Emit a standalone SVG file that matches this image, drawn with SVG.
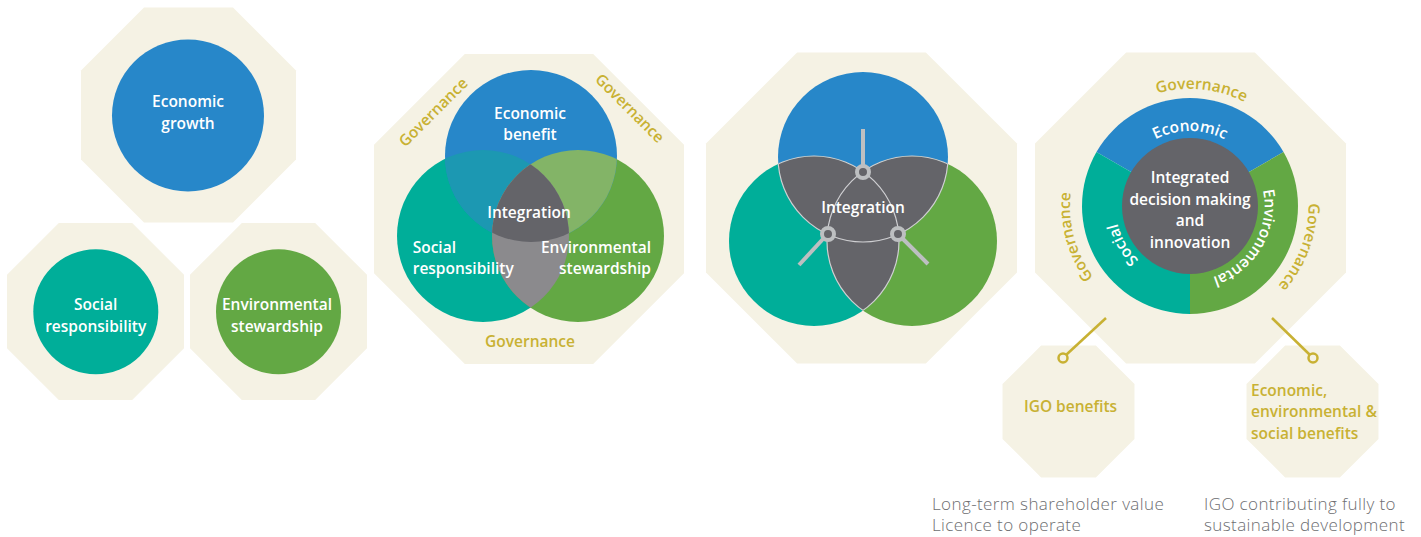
<svg xmlns="http://www.w3.org/2000/svg" width="1421" height="537" viewBox="0 0 1421 537">
<style>
.oct{fill:#f5f2e4}
.w{fill:#fff;font-family:"Open Sans","Liberation Sans",sans-serif;font-weight:600;font-size:15.5px;text-anchor:middle}
.g{fill:#c8b133;font-family:"Open Sans","Liberation Sans",sans-serif;font-weight:600;font-size:15.5px;text-anchor:middle}
.t{fill:#6d6e71;font-family:"Open Sans","Liberation Sans",sans-serif;font-weight:300;font-size:17px;letter-spacing:0.4px}
.blue{fill:#2787c9}.teal{fill:#00ae99}.green{fill:#63a844}.dark{fill:#646469}
.pin{stroke:#bdbfc1;stroke-width:4;fill:none}
.gl{stroke:#c8b133;stroke-width:2.5;fill:none}
.arc{fill:none;stroke:#cfcfd2;stroke-width:1.2}
</style>
<defs>
<clipPath id="cB"><circle cx="531" cy="156" r="86"/></clipPath>
<clipPath id="cT"><circle cx="483" cy="236" r="86"/></clipPath>
<clipPath id="c3B"><circle cx="863" cy="157" r="85"/></clipPath>
<clipPath id="c3TG"><circle cx="814" cy="241" r="85"/><circle cx="912" cy="241" r="85"/></clipPath>
<clipPath id="c3BG"><circle cx="863" cy="157" r="85"/><circle cx="912" cy="241" r="85"/></clipPath>
<clipPath id="c3BT"><circle cx="863" cy="157" r="85"/><circle cx="814" cy="241" r="85"/></clipPath>
<path id="pEco" d="M1115,206 A75,75 0 0 1 1265,206"/>
<path id="pEnv" d="M1227.5,141.05 A75,75 0 0 1 1152.5,270.95"/>
<path id="pSoc" d="M1227.5,270.95 A75,75 0 0 1 1152.5,141.05"/>
<path id="pGovT" d="M1070.2,199.7 A120,120 0 0 1 1309.8,212.3"/>
<path id="pGovL" d="M1221.1,321.9 A120,120 0 0 1 1158.9,90.1"/>
<path id="pGovR" d="M1232,93.6 A120,120 0 0 1 1148,318.4"/>
</defs>

<g id="economic-growth">
<polygon class="oct" points="144,7.5 233,7.5 296,70.5 296,159.5 233,222.5 144,222.5 81,159.5 81,70.5"/>
<circle class="blue" cx="188" cy="115.5" r="76"/>
<text class="w" x="188" y="107">Economic</text>
<text class="w" x="188" y="128.5">growth</text>
</g>

<g id="social-responsibility">
<polygon class="oct" points="58.8,223 132.2,223 184,274.8 184,348.2 132.2,400 58.8,400 7,348.2 7,274.8"/>
<circle class="teal" cx="95.8" cy="311.7" r="62.5"/>
<text class="w" x="95.7" y="310">Social</text>
<text class="w" x="95.7" y="331.5">responsibility</text>
</g>

<g id="environmental-stewardship">
<polygon class="oct" points="241.8,223 315.2,223 367,274.8 367,348.2 315.2,400 241.8,400 190,348.2 190,274.8"/>
<circle class="green" cx="278.5" cy="311.7" r="62.5"/>
<text class="w" x="277" y="310">Environmental</text>
<text class="w" x="277" y="331.5">stewardship</text>
</g>

<g id="venn">
<polygon class="oct" points="464.8,54 593.2,54 684,144.8 684,273.2 593.2,364 464.8,364 374,273.2 374,144.8"/>
<circle class="teal" cx="483" cy="236" r="86"/>
<circle class="green" cx="578" cy="236" r="86"/>
<circle class="blue" cx="531" cy="156" r="86"/>
<circle cx="483" cy="236" r="86" fill="#1c98b2" clip-path="url(#cB)"/>
<circle cx="578" cy="236" r="86" fill="#83b467" clip-path="url(#cB)"/>
<circle cx="578" cy="236" r="86" fill="#8b8a8d" clip-path="url(#cT)"/>
<g clip-path="url(#cB)"><circle cx="578" cy="236" r="86" fill="#646469" clip-path="url(#cT)"/></g>
<text class="w" x="530" y="118.5">Economic</text>
<text class="w" x="530" y="140">benefit</text>
<text class="w" x="529" y="218">Integration</text>
<text class="w" x="412.7" y="252.5" style="text-anchor:start">Social</text>
<text class="w" x="412.7" y="274" style="text-anchor:start">responsibility</text>
<text class="w" x="651" y="252.5" style="text-anchor:end">Environmental</text>
<text class="w" x="651" y="274" style="text-anchor:end">stewardship</text>
<text class="g" transform="translate(437,116) rotate(-45)">Governance</text>
<text class="g" transform="translate(626,112) rotate(45)">Governance</text>
<text class="g" x="530" y="346.5">Governance</text>
</g>

<g id="integration">
<polygon class="oct" points="797.1,52.5 925.9,52.5 1017,143.6 1017,272.4 925.9,363.5 797.1,363.5 706,272.4 706,143.6"/>
<circle class="blue" cx="863" cy="157" r="85"/>
<circle class="teal" cx="814" cy="241" r="85"/>
<circle class="green" cx="912" cy="241" r="85"/>
<circle class="dark" cx="814" cy="241" r="85" clip-path="url(#c3B)"/>
<circle class="dark" cx="912" cy="241" r="85" clip-path="url(#c3BT)"/>
<circle class="arc" cx="863" cy="157" r="85" clip-path="url(#c3TG)"/>
<circle class="arc" cx="814" cy="241" r="85" clip-path="url(#c3BG)"/>
<circle class="arc" cx="912" cy="241" r="85" clip-path="url(#c3BT)"/>
<text class="w" x="863" y="213">Integration</text>
<line class="pin" x1="863" y1="129" x2="863" y2="166"/>
<circle class="pin" cx="863" cy="172" r="6" style="fill:#646469"/>
<line class="pin" x1="823" y1="239" x2="799" y2="265"/>
<circle class="pin" cx="828" cy="234" r="6" style="fill:#646469"/>
<line class="pin" x1="903" y1="239" x2="928" y2="264"/>
<circle class="pin" cx="898" cy="234" r="6" style="fill:#646469"/>
</g>

<g id="integrated-decision-making">
<polygon class="oct" points="1126.1,52.5 1254.9,52.5 1346,143.6 1346,272.4 1254.9,363.5 1126.1,363.5 1035,272.4 1035,143.6"/>
<path class="blue" d="M1190,206 L1096.47,152 A108,108 0 0 1 1283.53,152 Z"/>
<path class="green" d="M1190,206 L1283.53,152 A108,108 0 0 1 1190,314 Z"/>
<path class="teal" d="M1190,206 L1190,314 A108,108 0 0 1 1096.47,152 Z"/>
<circle class="dark" cx="1190" cy="206" r="68"/>
<text class="w"><textPath href="#pEco" startOffset="50%">Economic</textPath></text>
<text class="w"><textPath href="#pEnv" startOffset="50%">Environmental</textPath></text>
<text class="w"><textPath href="#pSoc" startOffset="50%">Social</textPath></text>
<text class="w" x="1190" y="183">Integrated</text>
<text class="w" x="1190" y="204.5">decision making</text>
<text class="w" x="1190" y="226">and</text>
<text class="w" x="1190" y="247.5">innovation</text>
<text class="g"><textPath href="#pGovT" startOffset="51.5%">Governance</textPath></text>
<text class="g"><textPath href="#pGovL" startOffset="50%">Governance</textPath></text>
<text class="g"><textPath href="#pGovR" startOffset="50%">Governance</textPath></text>
</g>

<g id="igo-benefits">
<polygon class="oct" stroke="#fff" stroke-width="5" points="1040.1,343 1096.9,343 1137,383.1 1137,439.9 1096.9,480 1040.1,480 1000,439.9 1000,383.1"/>
<text class="g" x="1070.5" y="411.5">IGO benefits</text>
</g>

<g id="ees-benefits">
<polygon class="oct" stroke="#fff" stroke-width="5" points="1284.1,343 1340.9,343 1381,383.1 1381,439.9 1340.9,480 1284.1,480 1244,439.9 1244,383.1"/>
<text class="g" x="1251" y="395.5" style="text-anchor:start">Economic,</text>
<text class="g" x="1251" y="417" style="text-anchor:start">environmental &amp;</text>
<text class="g" x="1251" y="438.5" style="text-anchor:start">social benefits</text>
</g>

<g id="connectors">
<line class="gl" x1="1106" y1="318" x2="1066" y2="355"/>
<circle class="gl" cx="1063" cy="358" r="4.5" style="fill:#f5f2e4"/>
<line class="gl" x1="1272" y1="318" x2="1310" y2="355"/>
<circle class="gl" cx="1313" cy="358" r="4.5" style="fill:#f5f2e4"/>
</g>

<g id="notes">
<text class="t" x="932" y="510">Long-term shareholder value</text>
<text class="t" x="932" y="531">Licence to operate</text>
<text class="t" x="1204" y="510">IGO contributing fully to</text>
<text class="t" x="1204" y="531">sustainable development</text>
</g>
</svg>
